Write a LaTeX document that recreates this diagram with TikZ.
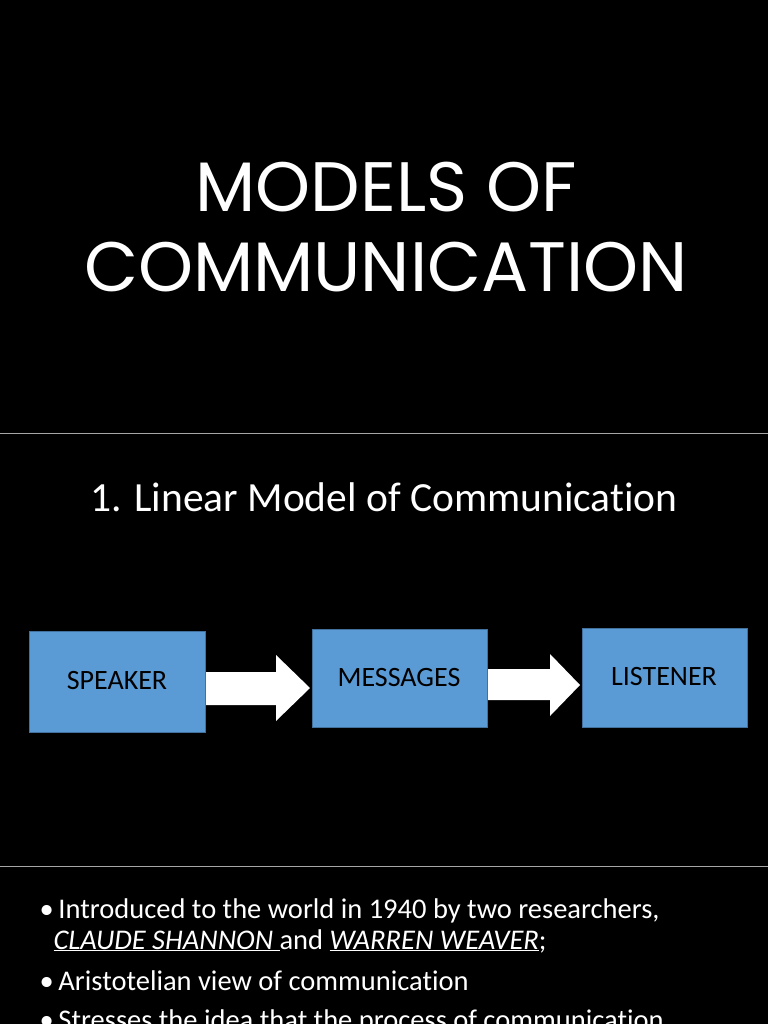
\documentclass[tikz,border=0pt]{standalone}
\usepackage{fontspec}
\setmainfont[Ligatures=NoCommon]{Carlito}
\newfontfamily\titlefont{Poppins}
\definecolor{boxblue}{HTML}{5B9BD5}
\definecolor{boxedge}{HTML}{41719C}
\tikzset{
  blk/.style={draw=boxedge,fill=boxblue,line width=1pt},
  lbl/.style={text=black,font=\fontsize{28}{32}\selectfont},
  warrow/.style={fill=white,draw=none},
  sep/.style={draw=gray!70,line width=0.8pt},
  bul/.style={text=white,anchor=west,font=\fontsize{28.5}{33}\selectfont}
}
\begin{document}
\begin{tikzpicture}[x=1pt,y=-1pt]
\fill[black] (0,0) rectangle (768,1024);
\useasboundingbox (0,0) rectangle (768,1024);
\clip (0,0) rectangle (768,1024);
\node[text=white,font=\titlefont\fontsize{70}{76}\selectfont] (t1) at (386,187) {MODELS OF};
\node[text=white,font=\titlefont\fontsize{70}{76}\selectfont] (t2) at (386,267) {COMMUNICATION};
\coordinate (l1a) at (0,433); \coordinate (l1b) at (768,433);
\draw[sep] (l1a) -- (l1b);
\coordinate (l2a) at (0,866); \coordinate (l2b) at (768,866);
\draw[sep] (l2a) -- (l2b);
\node[text=white,font=\fontsize{41.5}{46}\selectfont] (h) at (384,497) {1. Linear Model of Communication};
\draw[blk] (29,631) rectangle (205,732);
\node[lbl] (sp) at (117,681) {SPEAKER};
\draw[blk] (312,629) rectangle (487,727);
\node[lbl] (ms) at (399,678) {MESSAGES};
\draw[blk] (582,628) rectangle (747,727);
\node[lbl] (ls) at (664,677) {LISTENER};
\fill[warrow] (206,672) -- (276,672) -- (276,655) -- (310,688) -- (276,721) -- (276,705) -- (206,705) -- cycle;
\fill[warrow] (488,669) -- (550,669) -- (550,654) -- (580,685) -- (550,716) -- (550,700) -- (488,700) -- cycle;
\node[bul] (b1) at (36,911) {\textbullet\,Introduced to the world in 1940 by two researchers,};
\node[bul] (b2) at (50,941) {\underline{\textit{CLAUDE SHANNON }}and \underline{\textit{WARREN WEAVER}};};
\node[bul] (b3) at (36,981) {\textbullet\,Aristotelian view of communication};
\node[bul] (b4) at (36,1022) {\textbullet\,Stresses the idea that the process of communication};
\end{tikzpicture}
\end{document}
